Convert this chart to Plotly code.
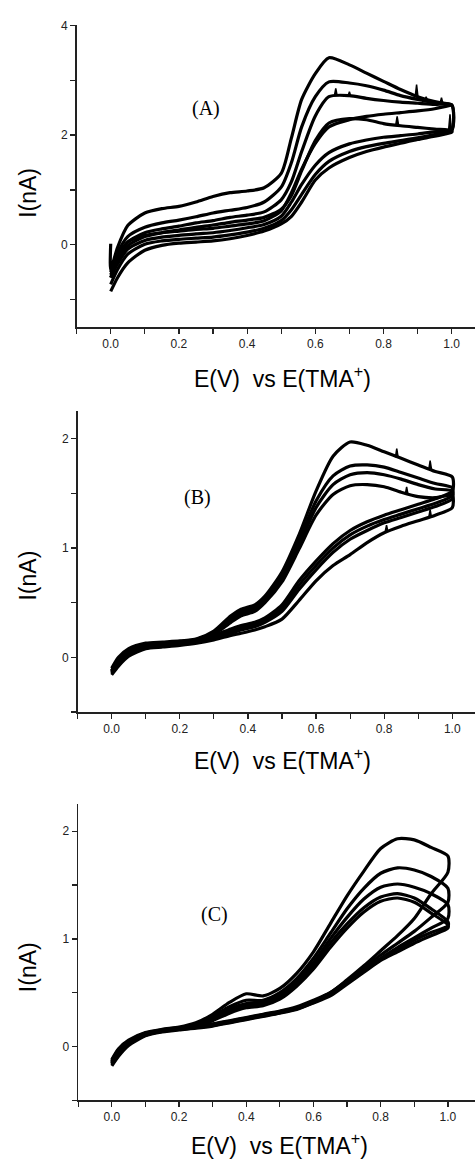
import plotly.graph_objects as go

W, H = 475, 1159

# ---------------- Panel A ----------------
xa = [0.0, 0.02, 0.05, 0.1, 0.15, 0.2, 0.25, 0.3, 0.35, 0.4, 0.45, 0.5, 0.53, 0.56,
      0.6, 0.64, 0.7, 0.75, 0.8, 0.85, 0.9, 0.95, 1.0]
a_start = [0.02]
a1_fwd = [-0.45, -0.05, 0.35, 0.58, 0.66, 0.70, 0.78, 0.88, 0.95, 0.98, 1.04, 1.30, 1.95,
          2.65, 3.12, 3.41, 3.28, 3.13, 2.98, 2.83, 2.70, 2.61, 2.55]
a2_fwd = [-0.5, -0.15, 0.15, 0.32, 0.40, 0.45, 0.51, 0.58, 0.63, 0.68, 0.78, 1.05, 1.50,
          2.15, 2.70, 2.97, 2.95, 2.90, 2.82, 2.72, 2.65, 2.59, 2.55]
a3_fwd = [-0.55, -0.25, 0.05, 0.22, 0.29, 0.34, 0.40, 0.44, 0.50, 0.54, 0.60, 0.82, 1.15,
          1.70, 2.35, 2.70, 2.72, 2.67, 2.63, 2.60, 2.58, 2.56, 2.55]
a4_fwd = [-0.6, -0.3, -0.02, 0.15, 0.22, 0.27, 0.32, 0.36, 0.41, 0.45, 0.50, 0.65, 0.90,
          1.35, 1.90, 2.22, 2.30, 2.28, 2.21, 2.17, 2.14, 2.11, 2.08]
# reverse scans, listed at the same potentials as xa (low -> high)
a1_rev = [-0.45, -0.2, 0.05, 0.17, 0.22, 0.25, 0.28, 0.30, 0.34, 0.38, 0.44, 0.62, 0.95,
          1.38, 1.85, 2.15, 2.28, 2.34, 2.38, 2.41, 2.44, 2.48, 2.55]
a2_rev = [-0.6, -0.35, -0.08, 0.08, 0.14, 0.17, 0.20, 0.22, 0.26, 0.31, 0.37, 0.52, 0.78,
          1.10, 1.45, 1.68, 1.84, 1.91, 1.96, 1.99, 2.02, 2.06, 2.10]
a3_rev = [-0.72, -0.45, -0.17, 0.01, 0.07, 0.10, 0.12, 0.14, 0.18, 0.23, 0.30, 0.44, 0.64,
          0.92, 1.28, 1.52, 1.70, 1.79, 1.85, 1.90, 1.95, 2.01, 2.08]
a4_rev = [-0.85, -0.6, -0.33, -0.1, -0.01, 0.03, 0.05, 0.07, 0.11, 0.17, 0.25, 0.38, 0.52,
          0.78, 1.18, 1.40, 1.59, 1.70, 1.78, 1.85, 1.92, 1.98, 2.05]
# noise spikes on the recorded curves
a_spike_x = [0.66, 0.70, 0.84, 0.897, 0.925, 0.97, 0.995]
a_spike_base = [2.72, 2.71, 2.19, 2.70, 2.63, 2.58, 2.10]
a_spike_top = [2.85, 2.79, 2.34, 2.92, 2.70, 2.68, 2.38]

# ---------------- Panel B ----------------
xb = [0.0, 0.02, 0.05, 0.1, 0.15, 0.2, 0.25, 0.3, 0.35, 0.38, 0.42, 0.45, 0.5, 0.55, 0.6,
      0.65, 0.7, 0.75, 0.8, 0.85, 0.9, 0.95, 1.0]
b1_fwd = [-0.10, 0.0, 0.08, 0.13, 0.14, 0.15, 0.17, 0.24, 0.38, 0.44, 0.48, 0.56, 0.78,
          1.12, 1.52, 1.84, 1.97, 1.94, 1.88, 1.82, 1.76, 1.70, 1.65]
b2_fwd = [-0.12, -0.02, 0.07, 0.12, 0.135, 0.145, 0.165, 0.23, 0.36, 0.42, 0.46, 0.54, 0.75,
          1.07, 1.43, 1.66, 1.75, 1.76, 1.74, 1.69, 1.64, 1.59, 1.55]
b3_fwd = [-0.13, -0.03, 0.06, 0.115, 0.13, 0.14, 0.16, 0.22, 0.34, 0.40, 0.44, 0.52, 0.72,
          1.03, 1.37, 1.58, 1.67, 1.69, 1.67, 1.63, 1.58, 1.54, 1.52]
b4_fwd = [-0.14, -0.04, 0.05, 0.11, 0.125, 0.135, 0.155, 0.21, 0.32, 0.38, 0.42, 0.50, 0.69,
          0.99, 1.30, 1.49, 1.57, 1.58, 1.56, 1.51, 1.47, 1.46, 1.48]
b1_rev = [-0.12, -0.05, 0.04, 0.10, 0.115, 0.13, 0.16, 0.20, 0.26, 0.29, 0.32, 0.36, 0.48,
          0.70, 0.88, 1.04, 1.16, 1.24, 1.30, 1.35, 1.40, 1.45, 1.52]
b2_rev = [-0.13, -0.06, 0.03, 0.09, 0.11, 0.125, 0.15, 0.19, 0.24, 0.27, 0.30, 0.34, 0.45,
          0.66, 0.84, 1.00, 1.12, 1.20, 1.26, 1.31, 1.36, 1.41, 1.48]
b3_rev = [-0.15, -0.07, 0.02, 0.085, 0.10, 0.12, 0.14, 0.18, 0.22, 0.25, 0.28, 0.32, 0.42,
          0.62, 0.80, 0.96, 1.08, 1.16, 1.23, 1.28, 1.33, 1.38, 1.45]
b4_rev = [-0.16, -0.08, 0.01, 0.08, 0.095, 0.11, 0.13, 0.16, 0.20, 0.22, 0.25, 0.28, 0.35,
          0.52, 0.70, 0.84, 0.94, 1.05, 1.14, 1.20, 1.25, 1.30, 1.37]
b_spike_x = [0.837, 0.935, 0.866, 0.807, 0.935]
b_spike_base = [1.83, 1.72, 1.49, 1.15, 1.28]
b_spike_top = [1.91, 1.80, 1.56, 1.21, 1.35]

# ---------------- Panel C ----------------
xc = [0.0, 0.02, 0.05, 0.1, 0.15, 0.2, 0.25, 0.3, 0.35, 0.4, 0.45, 0.5, 0.55, 0.6, 0.65,
      0.7, 0.75, 0.8, 0.85, 0.9, 0.95, 1.0]
c1_fwd = [-0.12, -0.02, 0.06, 0.13, 0.16, 0.18, 0.22, 0.30, 0.41, 0.49, 0.47, 0.54, 0.68,
          0.88, 1.14, 1.40, 1.63, 1.84, 1.93, 1.92, 1.85, 1.77]
c2_fwd = [-0.13, -0.03, 0.05, 0.125, 0.155, 0.175, 0.21, 0.28, 0.37, 0.43, 0.43, 0.50, 0.63,
          0.82, 1.05, 1.28, 1.47, 1.61, 1.66, 1.64, 1.58, 1.47]
c3_fwd = [-0.14, -0.04, 0.04, 0.12, 0.15, 0.17, 0.20, 0.26, 0.35, 0.40, 0.41, 0.48, 0.60,
          0.78, 1.00, 1.20, 1.37, 1.48, 1.51, 1.48, 1.42, 1.32]
c4_fwd = [-0.15, -0.05, 0.03, 0.115, 0.145, 0.165, 0.19, 0.25, 0.33, 0.38, 0.40, 0.46, 0.58,
          0.75, 0.96, 1.14, 1.29, 1.39, 1.42, 1.38, 1.28, 1.16]
c5_fwd = [-0.16, -0.06, 0.02, 0.11, 0.14, 0.16, 0.185, 0.24, 0.31, 0.36, 0.38, 0.44, 0.56,
          0.72, 0.92, 1.10, 1.25, 1.35, 1.38, 1.34, 1.24, 1.13]
c1_rev = [-0.14, -0.05, 0.05, 0.12, 0.155, 0.175, 0.19, 0.21, 0.24, 0.27, 0.30, 0.33, 0.37,
          0.43, 0.50, 0.62, 0.75, 0.89, 1.03, 1.19, 1.42, 1.62]
c2_rev = [-0.15, -0.06, 0.04, 0.115, 0.15, 0.17, 0.185, 0.205, 0.235, 0.265, 0.295, 0.325,
          0.36, 0.42, 0.50, 0.61, 0.73, 0.85, 0.96, 1.07, 1.20, 1.34]
c3_rev = [-0.16, -0.07, 0.03, 0.11, 0.145, 0.165, 0.18, 0.20, 0.23, 0.26, 0.29, 0.32, 0.355,
          0.415, 0.49, 0.60, 0.71, 0.82, 0.92, 1.01, 1.10, 1.19]
c4_rev = [-0.17, -0.08, 0.02, 0.105, 0.14, 0.16, 0.175, 0.195, 0.225, 0.255, 0.285, 0.315,
          0.35, 0.41, 0.48, 0.59, 0.70, 0.81, 0.90, 0.99, 1.06, 1.12]
c5_rev = [-0.18, -0.09, 0.01, 0.10, 0.135, 0.155, 0.17, 0.19, 0.22, 0.25, 0.28, 0.31, 0.345,
          0.405, 0.47, 0.58, 0.69, 0.80, 0.88, 0.96, 1.03, 1.10]

panel_labels = ["(A)", "(B)", "(C)"]
x_title = "E(V)\u00a0 vs E(TMA<sup>+</sup>)"
y_title = "I(nA)"

fig = go.Figure()
line = dict(color="black", width=3.2, shape="spline", smoothing=0.7)

panels = [
    ("x", "y", xa, [(a1_fwd, a1_rev), (a2_fwd, a2_rev), (a3_fwd, a3_rev), (a4_fwd, a4_rev)]),
    ("x2", "y2", xb, [(b1_fwd, b1_rev), (b2_fwd, b2_rev), (b3_fwd, b3_rev), (b4_fwd, b4_rev)]),
    ("x3", "y3", xc, [(c1_fwd, c1_rev), (c2_fwd, c2_rev), (c3_fwd, c3_rev), (c4_fwd, c4_rev),
                      (c5_fwd, c5_rev)]),
]
for pi, (xr, yr, xs, loops) in enumerate(panels):
    for li, (fwd, rev) in enumerate(loops):
        px = xs + xs[::-1]
        py = fwd + rev[::-1]
        if pi == 0 and li == 0:
            px = [xs[0]] + px
            py = a_start + py
        fig.add_trace(go.Scatter(x=px, y=py, mode="lines", line=line, xaxis=xr, yaxis=yr,
                                 showlegend=False, hoverinfo="skip"))

# thin noise spikes
for xr, yr, sx, sb, st in [("x", "y", a_spike_x, a_spike_base, a_spike_top),
                           ("x2", "y2", b_spike_x, b_spike_base, b_spike_top)]:
    px, py = [], []
    for x0, y0, y1 in zip(sx, sb, st):
        px += [x0 - 0.004, x0, x0 + 0.004, None]
        py += [y0, y1, y0, None]
    fig.add_trace(go.Scatter(x=px, y=py, mode="lines", fill="toself", fillcolor="black",
                             line=dict(color="black", width=1.5), xaxis=xr, yaxis=yr,
                             showlegend=False, hoverinfo="skip"))

tickfont = dict(family="Liberation Sans, Arial", size=12, color="#222")
axcol = "#222"


def xaxis(left_px, rng, anchor):
    return dict(domain=[left_px / W, 1.0], range=rng, anchor=anchor, showline=True,
                linecolor=axcol, linewidth=1.5, ticks="outside", ticklen=5, tickwidth=1.2,
                tickcolor=axcol, tick0=0, dtick=0.2, tickformat=".1f", showgrid=False,
                zeroline=False, tickfont=tickfont,
                minor=dict(ticks="outside", tick0=0, dtick=0.1, ticklen=5, tickwidth=1.2,
                           tickcolor=axcol, showgrid=False))


def yaxis(top_px, bot_px, rng, dt, anchor):
    return dict(domain=[1 - bot_px / H, 1 - top_px / H], range=rng, anchor=anchor,
                showline=True, linecolor=axcol, linewidth=1.5, ticks="outside", ticklen=5,
                tickwidth=1.2, tickcolor=axcol, tick0=0, dtick=dt, showgrid=False,
                zeroline=False, tickfont=tickfont,
                minor=dict(ticks="outside", tick0=0, dtick=dt / 2, ticklen=5, tickwidth=1.2,
                           tickcolor=axcol, showgrid=False))


fig.update_layout(
    width=W, height=H, margin=dict(l=0, r=0, t=0, b=0),
    plot_bgcolor="white", paper_bgcolor="white",
    xaxis=xaxis(76.6, [-0.1, 1.0683], "y"),
    yaxis=yaxis(18.5, 322.0, [-1.5, 4.0], 2, "x"),
    xaxis2=xaxis(77.6, [-0.1, 1.0667], "y2"),
    yaxis2=yaxis(406.8, 709.3, [-0.5, 2.25], 1, "x2"),
    xaxis3=xaxis(78.2, [-0.1, 1.0806], "y3"),
    yaxis3=yaxis(802.2, 1100.0, [-0.5, 2.25], 1, "x3"),
)

ann = []
title_font = dict(family="Liberation Sans, Arial", size=23, color="black")
for cx, cy in [(282, 372), (282, 757), (279, 1144)]:
    ann.append(dict(text=x_title, x=cx / W, y=1 - cy / H, xref="paper", yref="paper",
                    showarrow=False, font=title_font, xanchor="center", yanchor="middle"))
for cy in [187, 572, 966]:
    ann.append(dict(text=y_title, x=28 / W, y=1 - cy / H, xref="paper", yref="paper",
                    showarrow=False, font=title_font, textangle=-90, xanchor="center",
                    yanchor="middle"))
for lab, (cx, cy) in zip(panel_labels, [(206, 102), (197, 493), (214, 913)]):
    ann.append(dict(text=lab, x=cx / W, y=1 - cy / H, xref="paper", yref="paper",
                    showarrow=False, xanchor="center", yanchor="middle",
                    font=dict(family="Liberation Serif, Times New Roman", size=20,
                              color="black")))
fig.update_layout(annotations=ann)

fig.write_html(
    "out.html",
    config={"displayModeBar": False, "staticPlot": True},
    post_script="document.body.style.margin='0';document.body.style.padding='0';"
                "document.body.style.overflow='hidden';"
                "document.documentElement.style.overflow='hidden';",
)
